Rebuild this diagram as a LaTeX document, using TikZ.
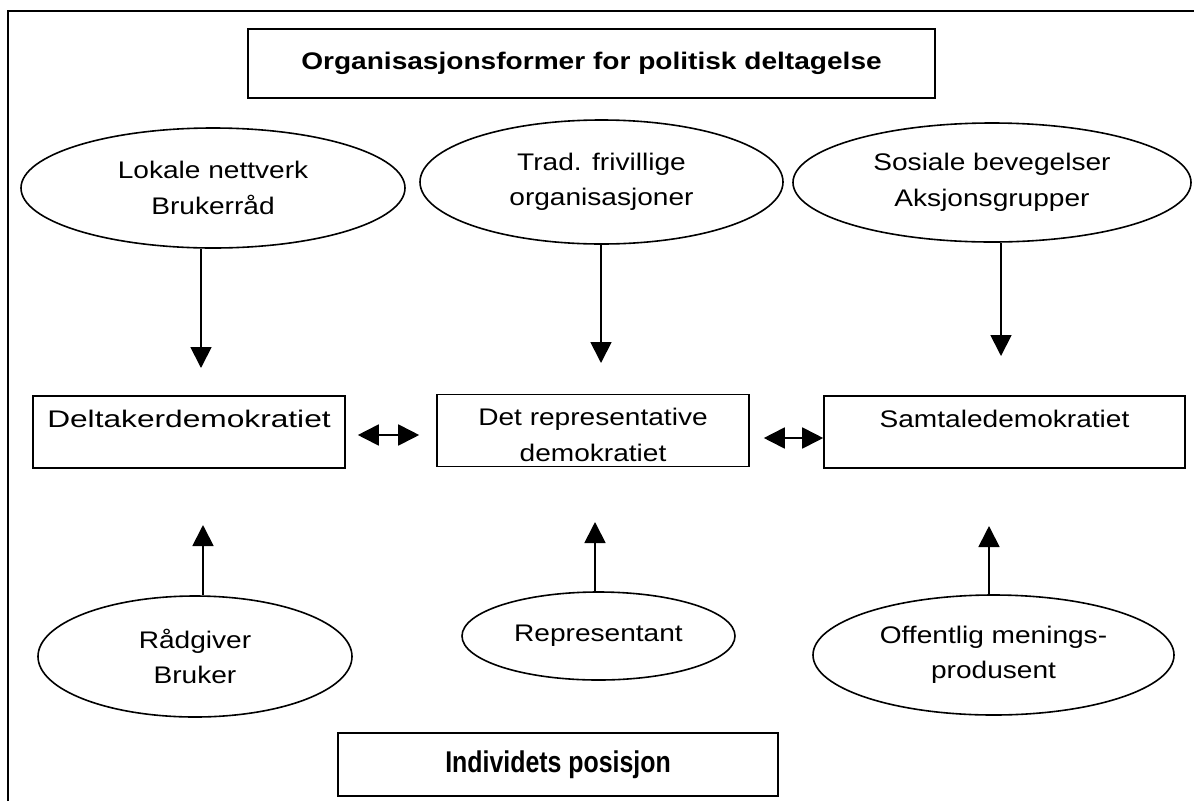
\documentclass[tikz,border=0pt]{standalone}
\usepackage{fontspec}
\setmainfont{Liberation Sans}[FakeStretch=1.17]
\newfontfamily\narrowfont{Liberation Sans}[FakeStretch=0.83]
\newfontfamily\widefont{Liberation Sans}[FakeStretch=1.32]
\usetikzlibrary{shapes, arrows.meta, positioning, calc}

\begin{document}
\begin{tikzpicture}[x=1pt, y=-1pt, line width=1.8pt, >={Triangle[width=21pt,length=21pt]},
    font=\fontsize{24}{35.5}\selectfont,
    box/.style={draw, rectangle, align=center, inner sep=0pt, line width=1.6pt},
    oval/.style={draw, ellipse, align=center, inner sep=0pt, line width=1.6pt}]
    \useasboundingbox (0,0) rectangle (1194,801);
    % Frame
    \draw[line width=2pt] (8,801) -- (8,11) -- (1194,11);

    % Nodes
    \node (title) [box, minimum width=687pt, minimum height=69pt] at (591.5,63.5) {\textbf{Organisasjonsformer for politisk deltagelse}};
    \node (localNet) [oval, minimum width=384pt, minimum height=120pt] at (213,188) {Lokale nettverk\\Brukerråd};
    \node (tradOrg) [oval, minimum width=363pt, minimum height=124pt] at (601.5,182) {Trad. frivillige\\organisasjoner};
    \node (socialMov) [oval, minimum width=398pt, minimum height=119pt] at (992,182.5) {Sosiale bevegelser\\Aksjonsgrupper};
    \node (partDem) [box, minimum width=312pt, minimum height=72pt, font=\widefont\fontsize{24}{35.5}\selectfont] at (189,432) {\rule{0pt}{26pt}Deltakerdemokratiet\\\mbox{}};
    \node (reprDem) [box, minimum width=312pt, minimum height=72pt] at (593,430.5) {\rule{0pt}{26pt}Det representative\\demokratiet};
    \node (talkDem) [box, minimum width=361pt, minimum height=72pt] at (1004.5,432) {\rule{0pt}{26pt}Samtaledemokratiet\\\mbox{}};
    \node (adviser) [oval, minimum width=314pt, minimum height=121pt] at (195,656.5) {Rådgiver\\Bruker};
    \node (representative) [oval, minimum width=273pt, minimum height=88pt] at (598.5,636) {Representant};
    \node (opinionMaker) [oval, minimum width=361pt, minimum height=120pt] at (993.5,655) {Offentlig menings-\\produsent};
    \node (position) [box, minimum width=440pt, minimum height=63pt, font=\narrowfont\fontsize{30}{36}\selectfont] at (558,764.5) {\textbf{Individets posisjon}};

    % Arrow tips
    \coordinate (tipA) at (201,368);
    \coordinate (tipB) at (601,363);
    \coordinate (tipC) at (1001,356);
    \coordinate (tipD) at (203,525);
    \coordinate (tipE) at (595,522);
    \coordinate (tipF) at (989,526);

    % Arrows
    \draw[->] (tipA |- localNet.south) -- (tipA);
    \draw[->] (tipB |- tradOrg.south) -- (tipB);
    \draw[->] (tipC |- socialMov.south) -- (tipC);
    \draw[->] (tipD |- adviser.north) -- (tipD);
    \draw[->] (tipE |- representative.north) -- (tipE);
    \draw[->] (tipF |- opinionMaker.north) -- (tipF);
    \draw[<->] ($(partDem.east)+(12,3)$) -- ($(reprDem.west |- partDem.east)+(-17,3)$);
    \draw[<->] ($(reprDem.east |- talkDem.west)+(14,6)$) -- ($(talkDem.west)+(0,6)$);
\end{tikzpicture}
\end{document}
